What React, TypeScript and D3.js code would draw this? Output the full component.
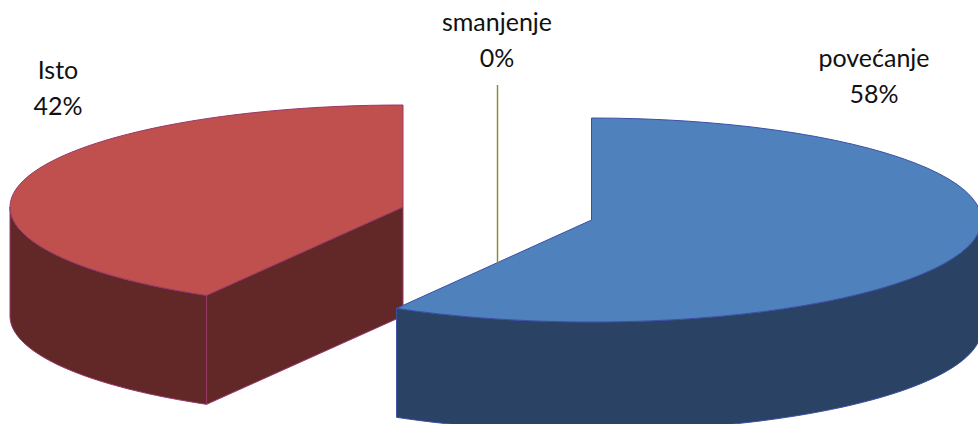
import React from 'react';
import * as d3 from 'd3';

const categories = ['povećanje', 'smanjenje', 'Isto'];
const values = [58.33, 0, 41.67];
const topColors = ['#4f81bd', '#8a8a1e', '#c0504d'];
const wallColors = ['#2a4263', '#5a5a10', '#622827'];
const edgeColors = ['#3d4fa5', '#8a8a1e', '#98386b'];

const W = 978, H = 424;
const ringRx = [390, 0, 393];
const ringRy = 102;
const depth = 109;
const centers = [[591.5, 220], [497.5, 263], [403, 207]];
const labelPos = [[874, 67], [497, 31], [58, 79]];

const pie = d3.pie<number>().sort(null).value(d => d)(values);

function pt(cx: number, cy: number, rx: number, a: number, dy = 0): [number, number] {
  return [cx + rx * Math.sin(a), cy - ringRy * Math.cos(a) + dy];
}
function top(i: number) {
  const [cx, cy] = centers[i];
  const rx = ringRx[i];
  const { startAngle: s, endAngle: e } = pie[i];
  const p = d3.path();
  p.moveTo(cx, cy);
  p.lineTo(...pt(cx, cy, rx, s));
  const seg = 60;
  for (let k = 1; k <= seg; k++) p.lineTo(...pt(cx, cy, rx, s + (e - s) * k / seg));
  p.closePath();
  return p.toString();
}
function wall(i: number, s: number, e: number) {
  const [cx, cy] = centers[i];
  const rx = ringRx[i];
  const seg = 60;
  const p = d3.path();
  p.moveTo(...pt(cx, cy, rx, s));
  for (let k = 1; k <= seg; k++) p.lineTo(...pt(cx, cy, rx, s + (e - s) * k / seg));
  for (let k = seg; k >= 0; k--) p.lineTo(...pt(cx, cy, rx, s + (e - s) * k / seg, depth));
  p.closePath();
  return p.toString();
}
function cut(i: number, a: number) {
  const [cx, cy] = centers[i];
  const rx = ringRx[i];
  const p = d3.path();
  p.moveTo(cx, cy);
  p.lineTo(...pt(cx, cy, rx, a));
  p.lineTo(...pt(cx, cy, rx, a, depth));
  p.lineTo(cx, cy + depth);
  p.closePath();
  return p.toString();
}

export default function App() {
  const redStart = pie[2].startAngle;
  const blueStart = Math.max(pie[0].startAngle, Math.PI / 2);
  return (
    <svg width={W} height={H} style={{ position: 'absolute', left: 0, top: 0, background: '#fff' }}
      fontFamily="Lato, 'Open Sans', sans-serif" fontSize={25} textAnchor="middle">
      <path d={wall(2, redStart, Math.PI * 1.5)} fill={wallColors[2]} stroke={edgeColors[2]} strokeWidth={1} />
      <path d={cut(2, redStart)} fill={wallColors[2]} stroke={edgeColors[2]} strokeWidth={1} />
      <path d={top(2)} fill={topColors[2]} stroke={edgeColors[2]} strokeWidth={1} />
      <path d={wall(0, blueStart, pie[0].endAngle)} fill={wallColors[0]} stroke={edgeColors[0]} strokeWidth={1} />
      <path d={top(0)} fill={topColors[0]} stroke={edgeColors[0]} strokeWidth={1} />
      <line x1={centers[1][0]} x2={centers[1][0]} y1={85} y2={centers[1][1]} stroke={edgeColors[1]} strokeWidth={1.4} />
      {categories.map((c, i) => (
        <text key={c} x={labelPos[i][0]} y={labelPos[i][1]} fill="#111">
          <tspan x={labelPos[i][0]}>{c}</tspan>
          <tspan x={labelPos[i][0]} dy={36}>{Math.round(values[i])}%</tspan>
        </text>
      ))}
    </svg>
  );
}
